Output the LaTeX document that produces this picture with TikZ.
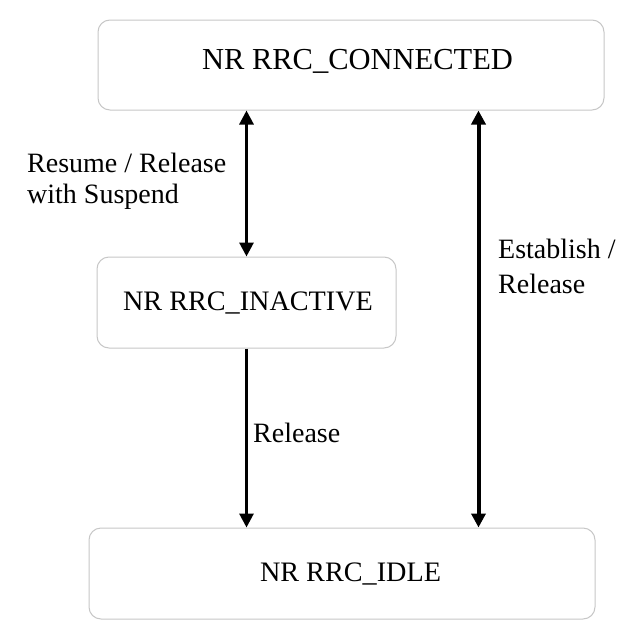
\documentclass[tikz,border=0pt]{standalone}
\usepackage{fontspec}
\setmainfont{Liberation Serif}
\usetikzlibrary{arrows.meta}
\tikzset{
  statebox/.style={draw=black!22, line width=1pt, rounded corners=12pt, inner sep=0pt, fill=white},
  boxtext/.style={anchor=base, inner sep=0pt, font=\fontsize{28.2}{33}\selectfont},
  lbl/.style={anchor=base west, inner sep=0pt, align=left},
  arr/.style={line width=3pt, {Triangle[width=14pt,length=14pt]}-{Triangle[width=14pt,length=14pt]}},
  arrdown/.style={line width=3pt, -{Triangle[width=14pt,length=14pt]}},
}
\begin{document}
\begin{tikzpicture}[x=1pt, y=-1pt]
\useasboundingbox[fill=white] (0,0) rectangle (640,640);
% boxes
\node[statebox, minimum width=506pt, minimum height=90pt] (conn) at (351,65) {};
\node[statebox, minimum width=299pt, minimum height=91pt] (inact) at (246.5,302.5) {};
\node[statebox, minimum width=506pt, minimum height=91pt] (idle) at (342,573.5) {};
% box texts
\node[boxtext, font=\fontsize{30.5}{35}\selectfont] (tconn) at (357.5,69) {NR RRC\_CONNECTED};
\node[boxtext] (tinact) at (248,310) {NR RRC\_INACTIVE};
\node[boxtext] (tidle) at (350.5,581) {NR RRC\_IDLE};
% connectors
\coordinate (rx) at (478.5,0);
\draw[arr] (inact.north |- conn.south) -- (inact.north);
\draw[arrdown] (inact.south) -- (inact.south |- idle.north);
\draw[arr, line width=4pt] (rx |- conn.south) -- (rx |- idle.north);
% labels (base anchor = baseline of last line)
\node[lbl, font=\fontsize{28}{31}\selectfont] (l1) at (27,203) {Resume / Release\\with Suspend};
\node[lbl, font=\fontsize{28}{35}\selectfont] (l2) at (498,293) {Establish /\\Release};
\node[lbl, font=\fontsize{28}{33}\selectfont] (l3) at (253,442) {Release};
\end{tikzpicture}
\end{document}
